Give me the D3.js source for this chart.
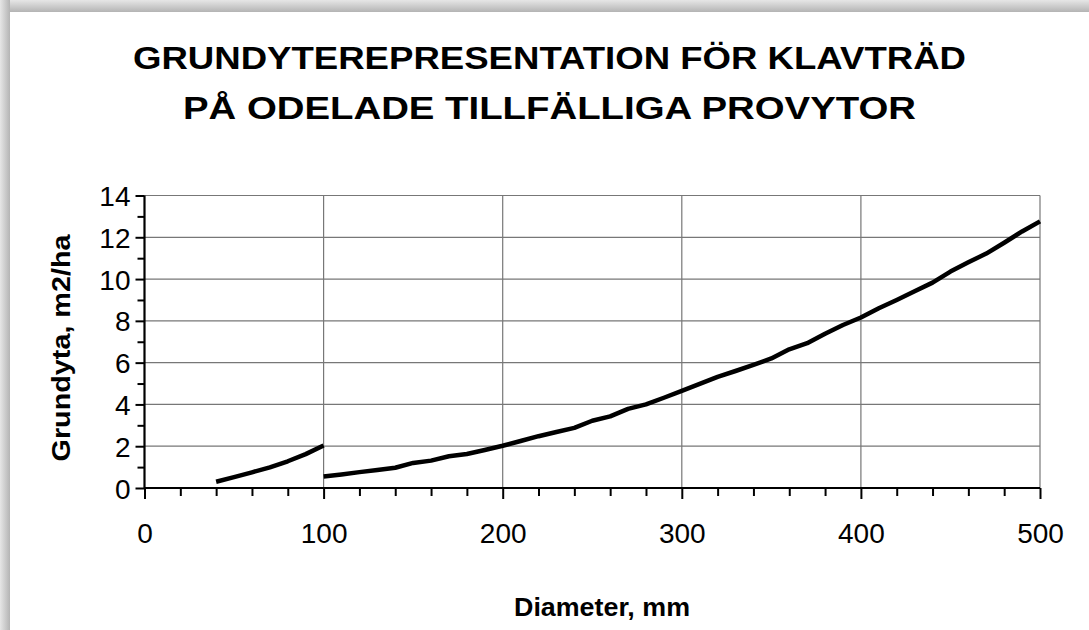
<!DOCTYPE html>
<html>
<head>
<meta charset="utf-8">
<script src="https://cdn.jsdelivr.net/npm/d3@7"></script>
<style>
  html, body { margin: 0; padding: 0; background: #fff; }
  svg { display: block; font-family: "Liberation Sans", Arial, sans-serif; }
</style>
</head>
<body>
<svg id="chart" width="1089" height="630"></svg>
<script>
// Texts
const titleLines = ["GRUNDYTEREPRESENTATION FÖR KLAVTRÄD", "PÅ ODELADE TILLFÄLLIGA PROVYTOR"];
const xLabel = "Diameter, mm";
const yLabel = "Grundyta, m2/ha";

// Tick values
const xTicks = [0, 100, 200, 300, 400, 500];
const xMinorTicks = [20, 40, 60, 80, 120, 140, 160, 180, 220, 240, 260, 280, 320, 340, 360, 380, 420, 440, 460, 480];
const yTicks = [0, 2, 4, 6, 8, 10, 12, 14];
const yMinorTicks = [1, 3, 5, 7, 9, 11, 13];

// Small trees, 40-100 mm
const diamSmall = [40, 50, 60, 70, 80, 90, 100];
const basalSmall = [0.30, 0.52, 0.75, 0.99, 1.28, 1.62, 2.03];

// Large trees, 100-500 mm
const diamLarge = [100, 110, 120, 130, 140, 150, 160, 170, 180, 190, 200,
  210, 220, 230, 240, 250, 260, 270, 280, 290, 300,
  310, 320, 330, 340, 350, 360, 370, 380, 390, 400,
  410, 420, 430, 440, 450, 460, 470, 480, 490, 500];
const basalLarge = [0.55, 0.65, 0.76, 0.86, 0.97, 1.20, 1.31, 1.52, 1.63, 1.82, 2.02,
  2.25, 2.48, 2.68, 2.88, 3.22, 3.43, 3.79, 4.00, 4.32, 4.65,
  4.98, 5.32, 5.60, 5.89, 6.20, 6.64, 6.93, 7.38, 7.80, 8.16,
  8.60, 9.00, 9.42, 9.83, 10.36, 10.80, 11.22, 11.74, 12.28, 12.76];

const svg = d3.select("#chart");
const W = 1089, H = 630;

// Panel with soft shadow on top and left
const defs = svg.append("defs");
const gTop = defs.append("linearGradient").attr("id", "shTop").attr("x1", 0).attr("y1", 0).attr("x2", 0).attr("y2", 1);
gTop.append("stop").attr("offset", "0%").attr("stop-color", "#e6e6e6");
gTop.append("stop").attr("offset", "100%").attr("stop-color", "#b4b4b4");
const gLeft = defs.append("linearGradient").attr("id", "shLeft").attr("x1", 0).attr("y1", 0).attr("x2", 1).attr("y2", 0);
gLeft.append("stop").attr("offset", "0%").attr("stop-color", "#e6e6e6");
gLeft.append("stop").attr("offset", "100%").attr("stop-color", "#b4b4b4");

svg.append("rect").attr("x", 0).attr("y", 0).attr("width", W).attr("height", 12).attr("fill", "url(#shTop)");
svg.append("rect").attr("x", 0).attr("y", 0).attr("width", 10).attr("height", H).attr("fill", "url(#shLeft)");
svg.append("rect").attr("x", 10).attr("y", 12).attr("width", W - 10).attr("height", H - 12).attr("fill", "#fff");

// Scales
const x = d3.scaleLinear().domain([0, 500]).range([144.5, 1040]);
const y = d3.scaleLinear().domain([0, 14]).range([488, 195.5]);

// Title
const title = svg.append("g").attr("font-weight", "bold").attr("font-size", 31).attr("text-anchor", "middle").attr("fill", "#000");
title.append("text").attr("x", 549.5).attr("y", 68.5).attr("textLength", 833).attr("lengthAdjust", "spacingAndGlyphs").text(titleLines[0]);
title.append("text").attr("x", 549.5).attr("y", 119).attr("textLength", 733).attr("lengthAdjust", "spacingAndGlyphs").text(titleLines[1]);

// Gridlines
const grid = svg.append("g").attr("stroke", "#777").attr("stroke-width", 1.2);
grid.selectAll("line.h").data(yTicks.slice(1)).join("line")
  .attr("x1", x(0)).attr("x2", x(500)).attr("y1", d => y(d)).attr("y2", d => y(d));
grid.selectAll("line.v").data(xTicks.slice(1)).join("line")
  .attr("y1", y(0)).attr("y2", y(14)).attr("x1", d => x(d)).attr("x2", d => x(d));

// Axes
const xAxis = d3.axisBottom(x).tickValues(xTicks).tickSize(11).tickPadding(24).tickFormat(d3.format("d"));
const xMinor = d3.axisBottom(x).tickValues(xMinorTicks).tickSize(8).tickFormat("");
const yAxis = d3.axisLeft(y).tickValues(yTicks).tickSize(9).tickPadding(5).tickFormat(d3.format("d"));
const yMinor = d3.axisLeft(y).tickValues(yMinorTicks).tickSize(7).tickFormat("");

function styleAxis(g) {
  g.select(".domain").remove();
  g.selectAll(".tick line").attr("stroke", "#000").attr("stroke-width", 2);
  g.selectAll(".tick text").attr("fill", "#000").attr("font-size", 28).attr("font-family", "'Liberation Sans', Arial, sans-serif");
}
svg.append("g").attr("transform", `translate(0,${y(0)})`).call(xMinor).call(styleAxis);
svg.append("g").attr("transform", `translate(0,${y(0)})`).call(xAxis).call(styleAxis);
svg.append("g").attr("transform", `translate(${x(0)},0)`).call(yMinor).call(styleAxis);
svg.append("g").attr("transform", `translate(${x(0)},0)`).call(yAxis).call(styleAxis)
  .selectAll(".tick text").attr("dy", "0.36em");

// Axis lines
svg.append("line").attr("x1", x(0)).attr("x2", x(500)).attr("y1", y(0)).attr("y2", y(0)).attr("stroke", "#000").attr("stroke-width", 2.2);
svg.append("line").attr("x1", x(0)).attr("x2", x(0)).attr("y1", y(0)).attr("y2", y(14)).attr("stroke", "#000").attr("stroke-width", 2.2);

// Axis titles
svg.append("text").attr("x", 602).attr("y", 616).attr("text-anchor", "middle").attr("font-weight", "bold").attr("font-size", 26)
  .attr("textLength", 176).attr("lengthAdjust", "spacingAndGlyphs").text(xLabel);
svg.append("text").attr("transform", "translate(70,348) rotate(-90)").attr("text-anchor", "middle").attr("font-weight", "bold").attr("font-size", 26)
  .attr("textLength", 227).attr("lengthAdjust", "spacingAndGlyphs").text(yLabel);

// Curves
const line = d3.line().x(d => x(d[0])).y(d => y(d[1]));
const series = [d3.zip(diamSmall, basalSmall), d3.zip(diamLarge, basalLarge)];
svg.append("g").selectAll("path").data(series).join("path")
  .attr("d", line).attr("fill", "none").attr("stroke", "#000").attr("stroke-width", 4.5)
  .attr("stroke-linejoin", "round").attr("stroke-linecap", "butt");
</script>
</body>
</html>
